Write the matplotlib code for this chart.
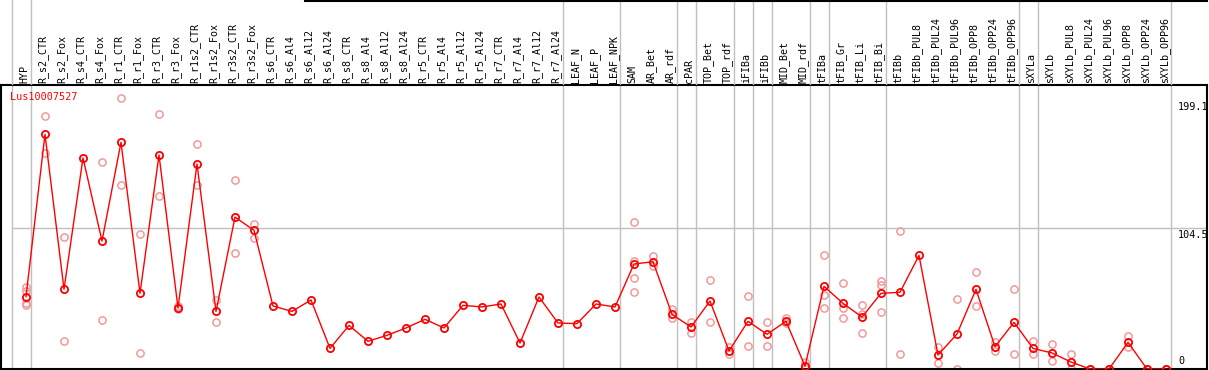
import matplotlib
matplotlib.use("Agg")
import matplotlib.pyplot as plt

categories = ["HYP", "R_s2_CTR", "R_s2_Fox", "R_s4_CTR", "R_s4_Fox", "R_r1_CTR", "R_r1_Fox",
              "R_r3_CTR", "R_r3_Fox", "R_r1s2_CTR", "R_r1s2_Fox", "R_r3s2_CTR", "R_r3s2_Fox",
              "R_s6_CTR", "R_s6_Al4", "R_s6_Al12", "R_s6_Al24",
              "R_s8_CTR", "R_s8_Al4", "R_s8_Al12", "R_s8_Al24",
              "R_r5_CTR", "R_r5_Al4", "R_r5_Al12", "R_r5_Al24",
              "R_r7_CTR", "R_r7_Al4", "R_r7_Al12", "R_r7_Al24",
              "LEAF_N", "LEAF_P", "LEAF_NPK", "SAM", "AR_Bet", "AR_rdf", "cPAR",
              "TOP_Bet", "TOP_rdf", "iFIBa", "iFIBb", "MID_Bet", "MID_rdf",
              "tFIBa", "tFIB_Gr", "tFIB_Li", "tFIB_Bi", "tFIBb",
              "tFIBb_PUL8", "tFIBb_PUL24", "tFIBb_PUL96", "tFIBb_OPP8", "tFIBb_OPP24", "tFIBb_OPP96",
              "sXYLa", "sXYLb",
              "sXYLb_PUL8", "sXYLb_PUL24", "sXYLb_PUL96", "sXYLb_OPP8", "sXYLb_OPP24", "sXYLb_OPP96"]

means = [53.7, 174.4, 59.2, 156.8, 95.1, 168.4, 56.2, 159.0, 45.3, 152.3, 42.8, 112.9, 103.0,
         46.8, 42.8, 51.3, 15.3,
         32.4, 20.6, 25.0, 30.5,
         36.9, 30.5, 47.3, 46.1,
         48.3, 19.3, 53.5, 34.2,
         33.7, 48.3, 46.1, 78.0, 79.7, 40.6, 31.2,
         50.5, 13.4, 35.4, 25.8, 35.4, 2.2,
         61.4, 48.8, 38.6, 56.2, 57.0,
         84.4, 10.4, 26.0, 59.2, 16.6, 34.7,
         15.3, 11.9,
         5.2, 0.0, 0.0, 19.8, 0.0, 0.0]

replicates = [[61.1, 58.1, 49.3, 47.5], [188.2, 160.2], [97.8, 21.1], [], [153.6, 36.2],
              [201.1, 136.7], [100.1, 11.6], [189.2, 128.5], [46.5, 44.3], [166.9, 136.7],
              [51.3, 34.7], [140.2, 85.9], [107.7, 97.6],
              [], [], [], [],
              [], [], [], [],
              [], [], [], [],
              [], [], [], [],
              [], [], [], [109.2, 80.2, 67.4, 57.0], [84.0, 76.5], [44.6, 37.6], [34.9, 26.5],
              [66.1, 34.7], [16.6, 10.9], [54.2, 17.1], [34.7, 17.1], [37.6, 34.2], [5.4, 0.5],
              [84.7, 55.0, 45.1], [63.7, 45.6, 37.6], [47.5, 41.1, 26.5], [65.4, 62.4, 42.6],
              [102.3, 10.9],
              [], [16.1, 4.2], [51.8, 0.0], [71.8, 46.6], [20.3, 13.6], [59.2, 10.9],
              [20.6, 10.9], [18.3, 5.9],
              [10.9, 0.0], [0.0, 0.0], [0.0, 0.0], [24.5, 16.1], [0.0, 0.0], [0.0, 0.0]]

gene = "Lus10007527"
ytick_values = [199.1, 104.5, 0]
ytick_labels = ["199.1", "104.5", "0"]
separators_after = [-1, 0, 28, 31, 34, 35, 37, 38, 39, 41, 42, 45, 52, 53, 60]

W, H = 1209, 370
fig = plt.figure(figsize=(W / 100, H / 100), dpi=100)
mono = "DejaVu Sans Mono"

x0 = (1 - 26) / 19
x1 = (1207 - 26) / 19

ax = fig.add_axes([1 / W, 1 / H, 1206 / W, 284 / H])
ax.set_xlim(x0, x1)
ax.set_ylim(0, 211.0)
ax.set_xticks([])
ax.set_yticks([])
for s in ax.spines.values():
    s.set_color("black")
    s.set_linewidth(1.5)

hax = fig.add_axes([1 / W, 285 / H, 1206 / W, 85 / H])
hax.set_xlim(x0, x1)
hax.set_ylim(0, 85)
hax.axis("off")

grey = "#c0c0c0"
for s in separators_after:
    ax.axvline(s + 0.25, color=grey, lw=1, zorder=0)
    hax.axvline(s + 0.25, color=grey, lw=1, zorder=0)
ax.hlines(104.5, -0.75, x1, color=grey, lw=1, zorder=0)
hax.plot([(305 - 26) / 19, x1], [84.5, 84.5], color="black", lw=1.5, clip_on=False)

xs = list(range(len(categories)))
for i, reps in enumerate(replicates):
    if reps:
        ax.plot([i] * len(reps), reps, linestyle="none", marker="o", ms=5.2,
                mfc="none", mec="#f09a9a", mew=1.1, zorder=2)

ax.plot(xs, means, color="red", lw=1.0, marker="o", ms=5.2, mfc="none",
        mec="red", mew=1.3, zorder=3)

for i, c in enumerate(categories):
    hax.text(i - 0.1, 2, c, rotation=90, ha="center", va="bottom",
             fontsize=7.2, family=mono, color="black")

ax.text(9 / 1206, 1 - 12 / 284, gene, transform=ax.transAxes, color="red",
        fontsize=7.3, family=mono, ha="left", va="center")

xt = (1178 - 26) / 19
for v, lab in zip(ytick_values, ytick_labels):
    if v == 0:
        ax.text(xt, v + 2.0, lab, fontsize=7.3, family=mono, ha="left", va="bottom")
    else:
        ax.text(xt, v - 1.0, lab, fontsize=7.3, family=mono, ha="left", va="top")

fig.savefig("out.png", dpi=100)
